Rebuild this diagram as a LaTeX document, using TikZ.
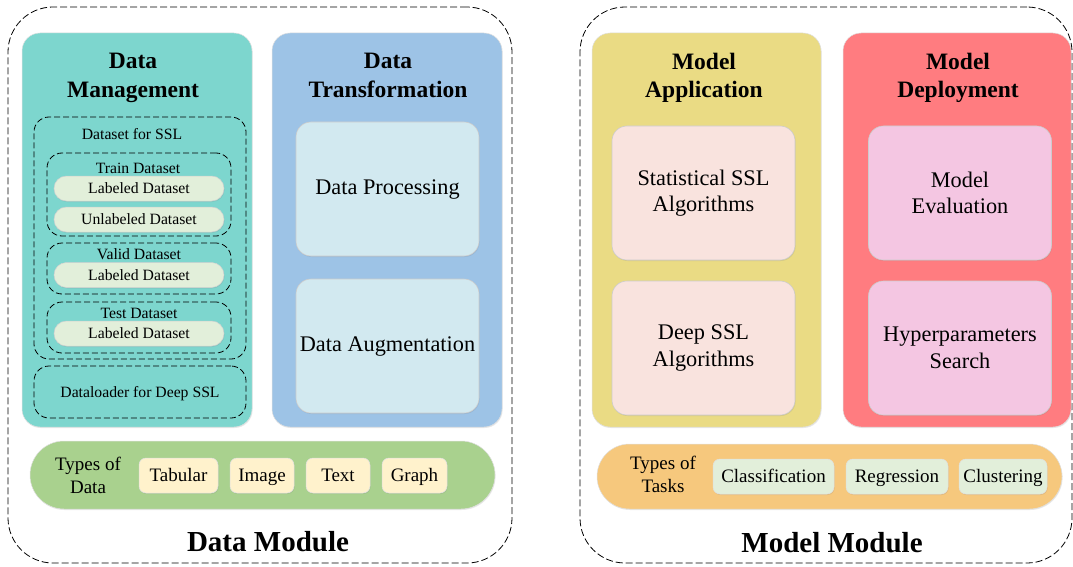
\documentclass[tikz,border=0pt]{standalone}
\usepackage{fontspec}
\setmainfont{Liberation Serif}
\usepackage{xcolor}
\usetikzlibrary{shadows}
\definecolor{mgmtcol}{HTML}{7DD6CE}
\definecolor{transcol}{HTML}{9DC3E6}
\definecolor{appcol}{HTML}{EADB84}
\definecolor{deploycol}{HTML}{FF7C80}
\definecolor{datacol}{HTML}{A9D18E}
\definecolor{taskcol}{HTML}{F6C87D}
\definecolor{procol}{HTML}{D2E9F0}
\definecolor{statcol}{HTML}{F9E3DE}
\definecolor{evalcol}{HTML}{F4C6E2}
\definecolor{pillcol}{HTML}{E2EFDA}
\definecolor{chipcol}{HTML}{FFF2CC}

\begin{document}
\begin{tikzpicture}[x=1pt, y=-1pt,
    softshadow/.style={drop shadow={shadow xshift=0.6pt, shadow yshift=-1pt, opacity=0.18}},
    module/.style={draw=black, dash pattern=on 7pt off 3pt, line width=0.8pt, rounded corners=45pt, minimum height=556pt},
    part/.style={draw=black!12, line width=0.5pt, rounded corners=18pt, minimum width=230pt, minimum height=394pt, softshadow},
    title/.style={font=\fontsize{23.5}{28.5}\selectfont\bfseries, align=center, text depth=5.1pt},
    inbox/.style={draw=black!20, line width=0.6pt, rounded corners=15pt, minimum width=183pt, minimum height=134pt, inner sep=0pt, align=center, font=\fontsize{22.3}{26.5}\selectfont, softshadow},
    setbox/.style={draw, dash pattern=on 6pt off 3pt, line width=0.8pt, rounded corners=15pt, minimum width=#1, inner sep=0pt},
    small/.style={font=\fontsize{15.7}{18}\selectfont, inner sep=0pt, text height=10.4pt, text depth=0pt},
    pill/.style={fill=pillcol, draw=black!18, line width=0.5pt, rounded corners=12.5pt, minimum width=170pt, minimum height=25pt, small, softshadow},
    bar/.style={draw=black!12, line width=0.5pt, minimum width=465pt, inner sep=0pt, softshadow},
    chip/.style={draw=black!12, line width=0.5pt, rounded corners=7pt, minimum height=35pt, inner sep=0pt, text height=12.6pt, text depth=0pt, font=\fontsize{19}{23}\selectfont, softshadow},
    kind/.style={align=center, inner sep=0pt, font=\fontsize{19}{23}\selectfont},
    modname/.style={anchor=base, inner sep=0pt, font=\fontsize{29}{34}\selectfont\bfseries}]

  \useasboundingbox (0,0) rectangle (1073,567);

  \node[module, minimum width=504pt] (datamod) at (260,285) {};
  \node[module, minimum width=492pt] (modelmod) at (826,285) {};

  \node[part, fill=mgmtcol] (mgmt) at (137,230) {};
  \node[part, fill=transcol] (trans) at (387,230) {};
  \node[part, fill=appcol, minimum width=229pt] (app) at (706.5,230) {};
  \node[part, fill=deploycol, minimum width=228pt] (deploy) at (957,230) {};

  \node[title] (mgmttitle) at (133,78) {Data\\Management};
  \node[title] (transtitle) at (388,78) {Data\\Transformation};
  \node[title] (apptitle) at (704,78) {Model\\Application};
  \node[title] (deploytitle) at (958,78) {Model\\Deployment};

  \node[setbox=212pt, minimum height=242pt] (sslset) at (140,238) {};
  \node[small] (ssltext) at (132,134) {Dataset for SSL};
  \node[setbox=184pt, minimum height=83pt] (trainset) at (139,194.5) {};
  \node[small] (traintext) at (138,168) {Train Dataset};
  \node[pill] (trainlab) at (139,188.5) {Labeled Dataset};
  \node[pill] (trainunlab) at (139,219.5) {Unlabeled Dataset};
  \node[setbox=184pt, minimum height=51pt] (validset) at (139,268.5) {};
  \node[small] (validtext) at (139,254) {Valid Dataset};
  \node[pill] (validlab) at (139,275) {Labeled Dataset};
  \node[setbox=184pt, minimum height=51pt] (testset) at (139,327.5) {};
  \node[small] (testtext) at (139,313) {Test Dataset};
  \node[pill] (testlab) at (139,333.5) {Labeled Dataset};
  \node[setbox=212pt, minimum height=52pt, small] (loader) at (140,392) {Dataloader for Deep SSL};

  \node[inbox, fill=procol] (process) at (387.5,189) {\strut Data Processing};
  \node[inbox, fill=procol] (augment) at (387.5,346) {\strut Data Augmentation};
  \node[inbox, fill=statcol] (statssl) at (703.5,193) {Statistical SSL\\Algorithms};
  \node[inbox, fill=statcol] (deepssl) at (703.5,348) {Deep SSL\\Algorithms};
  \node[inbox, fill=evalcol] (evaluate) at (960,193) {Model\\Evaluation};
  \node[inbox, fill=evalcol] (search) at (960,348) {Hyperparameters\\Search};

  \node[bar, fill=datacol, minimum height=68pt, rounded corners=34pt] (databar) at (262.5,475) {};
  \node[kind] (datakind) at (88,475.5) {Types of\\Data};
  \node[chip, fill=chipcol, minimum width=79pt] (tabular) at (178.5,475.5) {Tabular};
  \node[chip, fill=chipcol, minimum width=64pt] (image) at (262,475.5) {Image};
  \node[chip, fill=chipcol, minimum width=64pt] (text) at (338,475.5) {Text};
  \node[chip, fill=chipcol, minimum width=65pt] (graph) at (414.5,475.5) {Graph};

  \node[bar, fill=taskcol, minimum height=65pt, rounded corners=32.5pt] (taskbar) at (829.5,476.5) {};
  \node[kind] (taskkind) at (663,474.5) {Types of\\Tasks};
  \node[chip, fill=pillcol, minimum width=121pt] (classify) at (773.5,476.5) {Classification};
  \node[chip, fill=pillcol, minimum width=102pt] (regress) at (897,476.5) {Regression};
  \node[chip, fill=pillcol, minimum width=88pt] (cluster) at (1003,476.5) {Clustering};

  \node[modname] (datamodname) at (268,551) {Data Module};
  \node[modname] (modelmodname) at (832,552) {Model Module};

\end{tikzpicture}
\end{document}
